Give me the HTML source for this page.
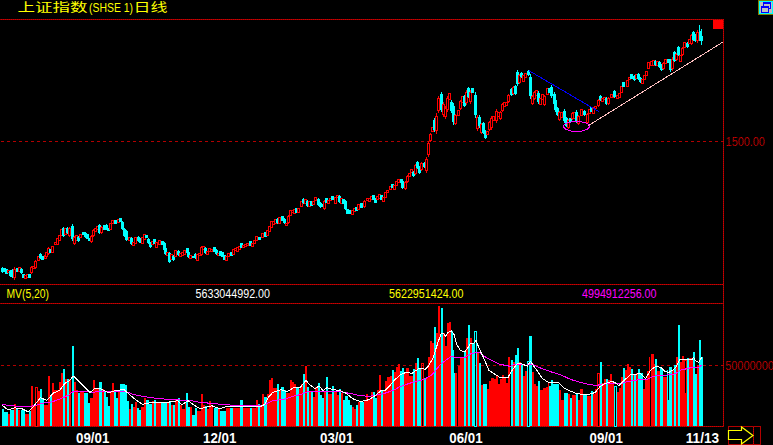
<!DOCTYPE html>
<html><head><meta charset="utf-8"><title>上证指数(SHSE 1)日线</title>
<style>html,body{margin:0;padding:0;background:#000;overflow:hidden}svg{display:block}text{font-family:"Liberation Sans","Noto Sans CJK SC",sans-serif}</style></head><body>
<svg width="773" height="445" viewBox="0 0 773 445">
<rect width="773" height="445" fill="#000"/>
<defs><pattern id="dr" width="2" height="2" patternUnits="userSpaceOnUse" shape-rendering="crispEdges"><rect width="2" height="2" fill="#990000"/><rect x="0" y="0" width="1" height="1" fill="#cc0000"/><rect x="1" y="1" width="1" height="1" fill="#cc0000"/></pattern></defs>
<g shape-rendering="crispEdges" fill="url(#dr)">
<rect x="0" y="19" width="724" height="1"/>
<rect x="723" y="19" width="1" height="408"/>
<rect x="0" y="284" width="724" height="1"/>
<rect x="0" y="303" width="724" height="1"/>
<rect x="0" y="426" width="724" height="1"/>
</g>
<g shape-rendering="crispEdges" stroke="#b20000" stroke-width="1" stroke-dasharray="3 3">
<line x1="1" y1="141.5" x2="723" y2="141.5"/>
<line x1="1" y1="365.5" x2="723" y2="365.5"/>
</g>
<rect x="713" y="20" width="10" height="9" fill="#ff0000" shape-rendering="crispEdges"/>
<g shape-rendering="crispEdges">
<rect x="2" y="409" width="2" height="17" fill="#00ffff"/>
<rect x="4" y="412" width="4" height="14" fill="#00ffff"/>
<rect x="8" y="414" width="2" height="12" fill="#ff0000"/>
<rect x="10" y="410" width="4" height="16" fill="#00ffff"/>
<rect x="14" y="404" width="2" height="22" fill="#ff0000"/>
<rect x="16" y="408" width="2" height="18" fill="#00ffff"/>
<rect x="18" y="410" width="2" height="16" fill="#ff0000"/>
<rect x="21" y="410" width="4" height="16" fill="#00ffff"/>
<rect x="25" y="414" width="4" height="12" fill="#ff0000"/>
<rect x="29" y="411" width="2" height="15" fill="#00ffff"/>
<rect x="31" y="386" width="2" height="40" fill="#ff0000"/>
<rect x="33" y="405" width="2" height="21" fill="#ff0000"/>
<rect x="35.5" y="387.5" width="2" height="39" fill="none" stroke="#ff0000" stroke-width="1"/>
<rect x="37" y="391" width="3" height="35" fill="#ff0000"/>
<rect x="40" y="389" width="2" height="37" fill="#00ffff"/>
<rect x="42" y="399" width="2" height="27" fill="#00ffff"/>
<rect x="44" y="405" width="4" height="21" fill="#ff0000"/>
<rect x="48" y="376" width="2" height="50" fill="#ff0000"/>
<rect x="50" y="395" width="2" height="31" fill="#00ffff"/>
<rect x="52" y="383" width="2" height="43" fill="#ff0000"/>
<rect x="54" y="390" width="5" height="36" fill="#ff0000"/>
<rect x="59" y="382" width="2" height="44" fill="#ff0000"/>
<rect x="61" y="373" width="2" height="53" fill="#ff0000"/>
<rect x="63" y="369" width="2" height="57" fill="#00ffff"/>
<rect x="65" y="379" width="2" height="47" fill="#ff0000"/>
<rect x="67" y="379" width="2" height="47" fill="#00ffff"/>
<rect x="69" y="379" width="2" height="47" fill="#ff0000"/>
<rect x="72" y="346" width="2" height="80" fill="#00ffff"/>
<rect x="74" y="382" width="2" height="44" fill="#ff0000"/>
<rect x="76" y="390" width="2" height="36" fill="#ff0000"/>
<rect x="78" y="393" width="2" height="33" fill="#00ffff"/>
<rect x="80" y="391" width="4" height="35" fill="#ff0000"/>
<rect x="84" y="393" width="4" height="33" fill="#00ffff"/>
<rect x="88" y="403" width="2" height="23" fill="#00ffff"/>
<rect x="90" y="398" width="3" height="28" fill="#ff0000"/>
<rect x="93" y="380" width="2" height="46" fill="#ff0000"/>
<rect x="95" y="388" width="4" height="38" fill="#ff0000"/>
<rect x="99" y="382" width="1" height="44" fill="#00ffff"/>
<rect x="100" y="382" width="2" height="44" fill="#00ffff"/>
<rect x="102" y="389" width="2" height="37" fill="#ff0000"/>
<rect x="104" y="391" width="2" height="35" fill="#00ffff"/>
<rect x="106" y="397" width="2" height="29" fill="#00ffff"/>
<rect x="108" y="406" width="2" height="20" fill="#00ffff"/>
<rect x="110" y="391" width="2" height="35" fill="#ff0000"/>
<rect x="112" y="383" width="2" height="43" fill="#ff0000"/>
<rect x="114" y="392" width="2" height="34" fill="#00ffff"/>
<rect x="116" y="398" width="2" height="28" fill="#00ffff"/>
<rect x="118" y="391" width="2" height="35" fill="#ff0000"/>
<rect x="120" y="384" width="5" height="42" fill="#00ffff"/>
<rect x="125" y="385" width="2" height="41" fill="#00ffff"/>
<rect x="127" y="401" width="2" height="25" fill="#00ffff"/>
<rect x="129" y="409" width="2" height="17" fill="#ff0000"/>
<rect x="131" y="404" width="2" height="22" fill="#00ffff"/>
<rect x="133" y="407" width="2" height="19" fill="#ff0000"/>
<rect x="135" y="402" width="2" height="24" fill="#ff0000"/>
<rect x="137" y="408" width="2" height="18" fill="#00ffff"/>
<rect x="139" y="410" width="2" height="16" fill="#00ffff"/>
<rect x="141" y="407" width="3" height="19" fill="#ff0000"/>
<rect x="144" y="398" width="2" height="28" fill="#ff0000"/>
<rect x="146" y="400" width="3" height="26" fill="#00ffff"/>
<rect x="149" y="404" width="3" height="22" fill="#00ffff"/>
<rect x="152" y="401" width="2" height="25" fill="#ff0000"/>
<rect x="154" y="400" width="2" height="26" fill="#00ffff"/>
<rect x="156" y="402" width="5" height="24" fill="#ff0000"/>
<rect x="161" y="402" width="6" height="24" fill="#00ffff"/>
<rect x="167" y="402" width="2" height="24" fill="#ff0000"/>
<rect x="169" y="402" width="2" height="24" fill="#00ffff"/>
<rect x="171" y="405" width="2" height="21" fill="#ff0000"/>
<rect x="173" y="405" width="2" height="21" fill="#00ffff"/>
<rect x="175" y="400" width="3" height="26" fill="#ff0000"/>
<rect x="178" y="398" width="2" height="28" fill="#00ffff"/>
<rect x="180" y="405" width="2" height="21" fill="#ff0000"/>
<rect x="182" y="409" width="3" height="17" fill="#ff0000"/>
<rect x="185" y="402" width="1" height="24" fill="#ff0000"/>
<rect x="186" y="393" width="2" height="33" fill="#00ffff"/>
<rect x="188" y="407" width="2" height="19" fill="#00ffff"/>
<rect x="190" y="407" width="2" height="19" fill="#ff0000"/>
<rect x="192" y="415" width="3" height="11" fill="#00ffff"/>
<rect x="195" y="408" width="2" height="18" fill="#00ffff"/>
<rect x="197" y="411" width="3" height="15" fill="#ff0000"/>
<rect x="200" y="411" width="1" height="15" fill="#ff0000"/>
<rect x="201" y="394" width="2" height="32" fill="#ff0000"/>
<rect x="203" y="405" width="2" height="21" fill="#ff0000"/>
<rect x="205" y="406" width="2" height="20" fill="#00ffff"/>
<rect x="207" y="409" width="2" height="17" fill="#ff0000"/>
<rect x="209" y="401" width="2" height="25" fill="#ff0000"/>
<rect x="211" y="405" width="2" height="21" fill="#ff0000"/>
<rect x="214" y="408" width="4" height="18" fill="#00ffff"/>
<rect x="218" y="408" width="2" height="18" fill="#ff0000"/>
<rect x="220" y="411" width="6" height="15" fill="#00ffff"/>
<rect x="226" y="408" width="4" height="18" fill="#ff0000"/>
<rect x="230" y="408" width="3" height="18" fill="#00ffff"/>
<rect x="233" y="408" width="7" height="18" fill="#ff0000"/>
<rect x="240" y="400" width="3" height="26" fill="#00ffff"/>
<rect x="243" y="408" width="7" height="18" fill="#ff0000"/>
<rect x="250" y="408" width="2" height="18" fill="#00ffff"/>
<rect x="252" y="408" width="4" height="18" fill="#ff0000"/>
<rect x="256" y="400" width="2" height="26" fill="#ff0000"/>
<rect x="258" y="404" width="2" height="22" fill="#00ffff"/>
<rect x="260" y="405" width="2" height="21" fill="#ff0000"/>
<rect x="262" y="394" width="2" height="32" fill="#ff0000"/>
<rect x="264" y="397" width="3" height="29" fill="#00ffff"/>
<rect x="267" y="394" width="2" height="32" fill="#ff0000"/>
<rect x="269" y="380" width="2" height="46" fill="#ff0000"/>
<rect x="271" y="378" width="2" height="48" fill="#ff0000"/>
<rect x="273" y="388" width="4" height="38" fill="#ff0000"/>
<rect x="277" y="384" width="2" height="42" fill="#00ffff"/>
<rect x="279" y="390" width="2" height="36" fill="#ff0000"/>
<rect x="281" y="387" width="3" height="39" fill="#00ffff"/>
<rect x="284" y="390" width="2" height="36" fill="#00ffff"/>
<rect x="286" y="393" width="4" height="33" fill="#ff0000"/>
<rect x="290" y="380" width="2" height="46" fill="#ff0000"/>
<rect x="292" y="382" width="2" height="44" fill="#ff0000"/>
<rect x="294" y="384" width="2" height="42" fill="#ff0000"/>
<rect x="296" y="387" width="3" height="39" fill="#00ffff"/>
<rect x="299" y="389" width="1" height="37" fill="#ff0000"/>
<rect x="300" y="386" width="1" height="40" fill="#ff0000"/>
<rect x="301" y="384" width="2" height="42" fill="#ff0000"/>
<rect x="303" y="374" width="2" height="52" fill="#00ffff"/>
<rect x="305" y="366" width="2" height="60" fill="#ff0000"/>
<rect x="307" y="387" width="2" height="39" fill="#00ffff"/>
<rect x="309" y="391" width="2" height="35" fill="#ff0000"/>
<rect x="311" y="391" width="2" height="35" fill="#00ffff"/>
<rect x="313" y="397" width="2" height="29" fill="#ff0000"/>
<rect x="315" y="387" width="3" height="39" fill="#ff0000"/>
<rect x="318" y="383" width="2" height="43" fill="#00ffff"/>
<rect x="320" y="395" width="2" height="31" fill="#00ffff"/>
<rect x="322" y="398" width="2" height="28" fill="#00ffff"/>
<rect x="324" y="391" width="2" height="35" fill="#ff0000"/>
<rect x="326" y="377" width="2" height="49" fill="#00ffff"/>
<rect x="328" y="394" width="4" height="32" fill="#ff0000"/>
<rect x="332" y="386" width="2" height="40" fill="#00ffff"/>
<rect x="334" y="391" width="3" height="35" fill="#ff0000"/>
<rect x="337" y="395" width="2" height="31" fill="#ff0000"/>
<rect x="339" y="389" width="2" height="37" fill="#00ffff"/>
<rect x="341" y="393" width="2" height="33" fill="#ff0000"/>
<rect x="343" y="400" width="2" height="26" fill="#00ffff"/>
<rect x="345" y="396" width="3" height="30" fill="#00ffff"/>
<rect x="348" y="400" width="2" height="26" fill="#00ffff"/>
<rect x="350" y="405" width="2" height="21" fill="#00ffff"/>
<rect x="352" y="407" width="2" height="19" fill="#ff0000"/>
<rect x="354" y="409" width="2" height="17" fill="#ff0000"/>
<rect x="356" y="405" width="2" height="21" fill="#00ffff"/>
<rect x="358" y="402" width="2" height="24" fill="#ff0000"/>
<rect x="360" y="402" width="4" height="24" fill="#00ffff"/>
<rect x="364" y="401" width="2" height="25" fill="#ff0000"/>
<rect x="366" y="394" width="2" height="32" fill="#ff0000"/>
<rect x="368" y="399" width="3" height="27" fill="#ff0000"/>
<rect x="371" y="392" width="2" height="34" fill="#ff0000"/>
<rect x="373" y="392" width="2" height="34" fill="#00ffff"/>
<rect x="375" y="398" width="2" height="28" fill="#00ffff"/>
<rect x="377" y="390" width="2" height="36" fill="#ff0000"/>
<rect x="379" y="375" width="2" height="51" fill="#ff0000"/>
<rect x="381" y="391" width="2" height="35" fill="#00ffff"/>
<rect x="383" y="391" width="2" height="35" fill="#ff0000"/>
<rect x="385" y="381" width="2" height="45" fill="#ff0000"/>
<rect x="387" y="377" width="3" height="49" fill="#ff0000"/>
<rect x="390" y="376" width="2" height="50" fill="#ff0000"/>
<rect x="392" y="370" width="2" height="56" fill="#00ffff"/>
<rect x="394" y="372" width="2" height="54" fill="#ff0000"/>
<rect x="396" y="367" width="2" height="59" fill="#ff0000"/>
<rect x="398" y="364" width="2" height="62" fill="#ff0000"/>
<rect x="400" y="371" width="2" height="55" fill="#00ffff"/>
<rect x="402" y="368" width="2" height="58" fill="#00ffff"/>
<rect x="404" y="373" width="2" height="53" fill="#ff0000"/>
<rect x="406" y="368" width="3" height="58" fill="#ff0000"/>
<rect x="409" y="376" width="4" height="50" fill="#ff0000"/>
<rect x="413" y="369" width="2" height="57" fill="#00ffff"/>
<rect x="415" y="363" width="2" height="63" fill="#ff0000"/>
<rect x="417" y="358" width="2" height="68" fill="#00ffff"/>
<rect x="419" y="368" width="2" height="58" fill="#00ffff"/>
<rect x="421.5" y="363.5" width="2" height="63" fill="none" stroke="#ff0000" stroke-width="1"/>
<rect x="424" y="378" width="2" height="48" fill="#00ffff"/>
<rect x="426" y="378" width="2" height="48" fill="#ff0000"/>
<rect x="455" y="373" width="2" height="53" fill="#ff0000"/>
<rect x="458" y="366" width="2" height="60" fill="#ff0000"/>
<rect x="460" y="358" width="4" height="68" fill="#ff0000"/>
<rect x="479" y="363" width="2" height="63" fill="#00ffff"/>
<rect x="481" y="385" width="2" height="41" fill="#ff0000"/>
<rect x="483" y="384" width="4" height="42" fill="#00ffff"/>
<rect x="487" y="389" width="2" height="37" fill="#ff0000"/>
<rect x="489" y="381" width="2" height="45" fill="#ff0000"/>
<rect x="491" y="378" width="3" height="48" fill="#ff0000"/>
<rect x="494" y="379" width="2" height="47" fill="#ff0000"/>
<rect x="496" y="376" width="2" height="50" fill="#ff0000"/>
<rect x="498" y="384" width="2" height="42" fill="#ff0000"/>
<rect x="428" y="357" width="2" height="69" fill="#ff0000"/>
<rect x="430" y="341" width="2" height="85" fill="#ff0000"/>
<rect x="432" y="343" width="2" height="83" fill="#ff0000"/>
<rect x="434" y="327" width="2" height="99" fill="#00ffff"/>
<rect x="436" y="333" width="2" height="93" fill="#ff0000"/>
<rect x="438" y="306" width="2" height="120" fill="#ff0000"/>
<rect x="440" y="335" width="1" height="91" fill="#ff0000"/>
<rect x="441" y="308" width="2" height="118" fill="#00ffff"/>
<rect x="443" y="333" width="2" height="93" fill="#ff0000"/>
<rect x="445" y="346" width="2" height="80" fill="#ff0000"/>
<rect x="447" y="323" width="2" height="103" fill="#ff0000"/>
<rect x="449" y="322" width="2" height="104" fill="#ff0000"/>
<rect x="451" y="331" width="2" height="95" fill="#00ffff"/>
<rect x="453" y="350" width="2" height="76" fill="#00ffff"/>
<rect x="464" y="352" width="2" height="74" fill="#00ffff"/>
<rect x="466" y="338" width="2" height="88" fill="#ff0000"/>
<rect x="468" y="325" width="2" height="101" fill="#00ffff"/>
<rect x="470" y="338" width="2" height="88" fill="#ff0000"/>
<rect x="472" y="343" width="2" height="83" fill="#00ffff"/>
<rect x="474.5" y="331.5" width="2" height="95" fill="none" stroke="#00ffff" stroke-width="1"/>
<rect x="477" y="352" width="2" height="74" fill="#ff0000"/>
<rect x="500" y="379" width="2" height="47" fill="#ff0000"/>
<rect x="502" y="375" width="2" height="51" fill="#ff0000"/>
<rect x="504" y="378" width="2" height="48" fill="#ff0000"/>
<rect x="506" y="383" width="2" height="43" fill="#ff0000"/>
<rect x="508" y="357" width="2" height="69" fill="#ff0000"/>
<rect x="511" y="360" width="2" height="66" fill="#00ffff"/>
<rect x="513" y="362" width="2" height="64" fill="#ff0000"/>
<rect x="515" y="355" width="2" height="71" fill="#00ffff"/>
<rect x="517" y="348" width="2" height="78" fill="#00ffff"/>
<rect x="519" y="362" width="2" height="64" fill="#ff0000"/>
<rect x="521" y="364" width="2" height="62" fill="#00ffff"/>
<rect x="523" y="376" width="2" height="50" fill="#ff0000"/>
<rect x="525" y="371" width="2" height="55" fill="#ff0000"/>
<rect x="527.5" y="361.5" width="2" height="65" fill="none" stroke="#00ffff" stroke-width="1"/>
<rect x="529" y="336" width="3" height="90" fill="#00ffff"/>
<rect x="532" y="372" width="2" height="54" fill="#ff0000"/>
<rect x="534" y="384" width="2" height="42" fill="#ff0000"/>
<rect x="536" y="386" width="2" height="40" fill="#ff0000"/>
<rect x="538" y="381" width="2" height="45" fill="#00ffff"/>
<rect x="540" y="390" width="3" height="36" fill="#ff0000"/>
<rect x="543" y="388" width="3" height="38" fill="#ff0000"/>
<rect x="546" y="387" width="2" height="39" fill="#ff0000"/>
<rect x="548" y="382" width="1" height="44" fill="#ff0000"/>
<rect x="549" y="386" width="2" height="40" fill="#00ffff"/>
<rect x="551" y="380" width="2" height="46" fill="#00ffff"/>
<rect x="553" y="384" width="6" height="42" fill="#00ffff"/>
<rect x="559" y="390" width="2" height="36" fill="#ff0000"/>
<rect x="561" y="400" width="3" height="26" fill="#ff0000"/>
<rect x="564" y="393" width="4" height="33" fill="#00ffff"/>
<rect x="568" y="394" width="2" height="32" fill="#ff0000"/>
<rect x="570" y="398" width="2" height="28" fill="#00ffff"/>
<rect x="572" y="395" width="4" height="31" fill="#ff0000"/>
<rect x="576" y="394" width="2" height="32" fill="#00ffff"/>
<rect x="578" y="400" width="2" height="26" fill="#ff0000"/>
<rect x="580" y="389" width="3" height="37" fill="#ff0000"/>
<rect x="583" y="395" width="4" height="31" fill="#00ffff"/>
<rect x="587" y="396" width="4" height="30" fill="#ff0000"/>
<rect x="591" y="391" width="2" height="35" fill="#00ffff"/>
<rect x="593" y="394" width="2" height="32" fill="#ff0000"/>
<rect x="595" y="389" width="2" height="37" fill="#ff0000"/>
<rect x="597.5" y="373.5" width="2" height="53" fill="none" stroke="#ff0000" stroke-width="1"/>
<rect x="600" y="362" width="2" height="64" fill="#00ffff"/>
<rect x="602" y="383" width="2" height="43" fill="#ff0000"/>
<rect x="604" y="379" width="2" height="47" fill="#ff0000"/>
<rect x="606" y="379" width="2" height="47" fill="#00ffff"/>
<rect x="608" y="380" width="2" height="46" fill="#ff0000"/>
<rect x="610" y="374" width="2" height="52" fill="#ff0000"/>
<rect x="612" y="381" width="2" height="45" fill="#ff0000"/>
<rect x="614.5" y="386.5" width="2" height="40" fill="none" stroke="#00ffff" stroke-width="1"/>
<rect x="617" y="392" width="2" height="34" fill="#ff0000"/>
<rect x="619" y="388" width="2" height="38" fill="#ff0000"/>
<rect x="621" y="377" width="2" height="49" fill="#ff0000"/>
<rect x="623" y="368" width="2" height="58" fill="#00ffff"/>
<rect x="625" y="370" width="2" height="56" fill="#ff0000"/>
<rect x="627" y="364" width="2" height="62" fill="#ff0000"/>
<rect x="629" y="367" width="2" height="59" fill="#ff0000"/>
<rect x="631" y="369" width="2" height="57" fill="#00ffff"/>
<rect x="633" y="375" width="1" height="51" fill="#ff0000"/>
<rect x="634" y="375" width="2" height="51" fill="#00ffff"/>
<rect x="636" y="373" width="2" height="53" fill="#ff0000"/>
<rect x="638" y="369" width="2" height="57" fill="#00ffff"/>
<rect x="640" y="373" width="3" height="53" fill="#00ffff"/>
<rect x="643" y="389" width="2" height="37" fill="#ff0000"/>
<rect x="645" y="380" width="2" height="46" fill="#ff0000"/>
<rect x="647" y="371" width="2" height="55" fill="#ff0000"/>
<rect x="649" y="357" width="2" height="69" fill="#ff0000"/>
<rect x="651" y="354" width="3" height="72" fill="#ff0000"/>
<rect x="654" y="364" width="1" height="62" fill="#ff0000"/>
<rect x="655" y="359" width="2" height="67" fill="#00ffff"/>
<rect x="657" y="371" width="3" height="55" fill="#ff0000"/>
<rect x="660" y="368" width="3" height="58" fill="#00ffff"/>
<rect x="663" y="377" width="4" height="49" fill="#ff0000"/>
<rect x="667" y="370" width="2" height="56" fill="#00ffff"/>
<rect x="669" y="367" width="3" height="59" fill="#00ffff"/>
<rect x="672" y="370" width="2" height="56" fill="#ff0000"/>
<rect x="674" y="365" width="2" height="61" fill="#00ffff"/>
<rect x="676" y="357" width="2" height="69" fill="#ff0000"/>
<rect x="678" y="325" width="2" height="101" fill="#00ffff"/>
<rect x="680" y="362" width="2" height="64" fill="#ff0000"/>
<rect x="682" y="356" width="2" height="70" fill="#ff0000"/>
<rect x="684" y="360" width="3" height="66" fill="#ff0000"/>
<rect x="687" y="358" width="2" height="68" fill="#00ffff"/>
<rect x="689" y="358" width="4" height="68" fill="#ff0000"/>
<rect x="693" y="352" width="2" height="74" fill="#00ffff"/>
<rect x="695" y="374" width="2" height="52" fill="#00ffff"/>
<rect x="697" y="365" width="2" height="61" fill="#ff0000"/>
<rect x="699" y="340" width="2" height="86" fill="#00ffff"/>
<rect x="701" y="357" width="2" height="69" fill="#00ffff"/>
<rect x="685" y="361" width="1" height="32" fill="#000"/>
<rect x="650" y="357" width="1" height="69" fill="#000"/>
<rect x="668" y="370" width="1" height="30" fill="#000"/>
<rect x="454" y="350" width="1" height="23" fill="#000"/>
</g>
<polyline points="2.0,404.4 12.0,405.8 28.3,406.8 36.4,405.2 42.5,403.2 52.6,401.7 60.7,398.7 68.8,395.0 72.9,391.6 85.0,391.6 93.0,392.2 100.0,391.6 126.0,391.6 134.0,394.7 150.6,397.7 171.0,399.7 189.0,400.3 200.0,402.3 216.0,403.8 232.0,405.2 256.7,405.8 264.8,404.8 273.0,400.7 285.0,399.0 295.0,395.7 300.0,394.7 308.0,391.6 340.0,391.6 350.6,393.6 360.7,395.7 368.8,396.3 379.0,394.7 387.0,392.6 395.0,389.6 400.0,386.6 412.0,382.5 424.3,379.5 432.4,374.4 440.5,364.3 450.6,356.6 460.7,357.8 465.0,357.4 470.4,354.0 477.0,352.0 481.0,353.5 487.0,358.0 495.0,361.9 500.0,364.3 510.0,366.3 516.0,364.0 522.0,364.0 526.0,365.3 531.4,364.0 540.5,368.0 552.6,372.4 560.7,374.8 570.8,379.5 581.0,382.5 589.0,384.5 597.0,385.5 600.0,384.5 610.0,383.5 619.0,384.0 628.0,381.5 640.5,379.5 646.5,379.5 654.7,376.0 664.8,375.4 675.5,373.7 679.8,370.4 686.3,368.8 691.5,367.5 698.7,367.2 701.6,365.3" fill="none" stroke="#ff00ff" stroke-width="1" stroke-linejoin="round" shape-rendering="crispEdges"/>
<polyline points="2.0,405.2 8.0,409.8 15.0,407.8 22.0,408.8 28.3,411.9 32.4,407.8 36.4,402.7 40.5,397.7 46.6,400.3 53.6,393.0 59.7,390.2 64.8,383.5 69.8,380.5 73.3,376.0 78.0,380.5 85.0,387.6 90.0,392.6 94.0,389.0 100.0,388.6 109.0,393.0 115.0,390.5 124.0,389.6 130.0,395.0 136.0,400.0 142.5,404.4 150.0,402.7 165.0,402.7 178.0,400.7 182.0,404.8 188.0,400.7 194.0,405.0 200.0,408.8 212.0,405.8 220.0,408.8 226.0,406.8 260.0,406.8 264.8,404.4 268.8,396.7 273.0,392.2 281.0,389.6 287.0,391.6 294.0,387.6 300.0,387.6 306.0,380.5 310.0,385.0 315.0,388.6 319.0,386.0 323.0,390.6 327.0,387.6 332.4,389.6 340.5,390.6 346.6,393.6 352.6,398.7 358.7,401.0 363.0,401.0 368.8,399.7 375.0,395.7 381.0,390.6 385.0,390.6 389.0,386.6 394.0,380.5 400.0,375.0 406.0,372.4 412.0,373.4 416.0,370.4 420.0,368.0 425.3,369.4 428.3,366.3 432.4,359.0 433.2,357.4 437.8,343.0 441.0,334.0 443.7,333.2 445.6,336.5 448.0,332.6 451.5,331.0 454.0,334.5 456.7,344.3 460.0,350.0 464.5,352.0 467.8,348.0 470.4,343.7 473.7,343.7 476.0,340.4 478.0,345.6 480.8,352.0 483.4,357.4 489.0,370.4 495.0,374.4 500.0,377.4 508.0,377.4 512.0,370.4 517.0,363.9 522.0,363.9 527.3,366.3 530.4,361.3 535.4,368.3 542.5,378.5 548.6,382.5 558.7,383.0 564.8,388.6 575.0,393.0 581.0,394.2 589.0,394.2 595.0,392.6 600.0,386.6 604.0,384.0 612.0,381.5 615.0,382.5 619.0,385.5 624.0,380.5 630.4,374.8 635.4,374.4 640.5,373.4 645.5,378.5 650.6,370.4 655.7,366.3 660.7,367.3 664.8,371.4 668.8,372.4 673.0,370.0 676.5,366.5 677.8,363.3 679.8,359.5 692.2,359.5 693.6,357.4 695.0,360.3 698.7,362.3 702.0,357.0" fill="none" stroke="#ffffff" stroke-width="1" stroke-linejoin="round" shape-rendering="crispEdges"/>
<g shape-rendering="crispEdges">
<rect x="2" y="267" width="1" height="6" fill="#00ffff"/>
<rect x="1" y="268" width="3" height="4" fill="#00ffff"/>
<rect x="3" y="268" width="3" height="4" fill="#00ffff"/>
<rect x="5" y="269" width="3" height="5" fill="#00ffff"/>
<rect x="7" y="270" width="3" height="3" fill="#ff0000"/>
<rect x="8" y="271" width="1" height="1" fill="#000"/>
<rect x="10" y="270" width="1" height="7" fill="#00ffff"/>
<rect x="9" y="271" width="3" height="5" fill="#00ffff"/>
<rect x="12" y="269" width="1" height="9" fill="#00ffff"/>
<rect x="11" y="270" width="3" height="7" fill="#00ffff"/>
<rect x="14" y="267" width="1" height="13" fill="#ff0000"/>
<rect x="13" y="269" width="3" height="9" fill="#ff0000"/>
<rect x="14" y="270" width="1" height="7" fill="#000"/>
<rect x="16" y="268" width="3" height="4" fill="#00ffff"/>
<rect x="18" y="267" width="3" height="5" fill="#ff0000"/>
<rect x="19" y="268" width="1" height="3" fill="#000"/>
<rect x="21" y="268" width="1" height="6" fill="#00ffff"/>
<rect x="20" y="269" width="3" height="4" fill="#00ffff"/>
<rect x="22" y="274" width="3" height="4" fill="#00ffff"/>
<rect x="24" y="275" width="3" height="4" fill="#ff0000"/>
<rect x="25" y="276" width="1" height="2" fill="#000"/>
<rect x="26" y="274" width="3" height="4" fill="#ff0000"/>
<rect x="27" y="275" width="1" height="2" fill="#000"/>
<rect x="28" y="274" width="3" height="4" fill="#00ffff"/>
<rect x="31" y="266" width="1" height="8" fill="#ff0000"/>
<rect x="30" y="267" width="3" height="6" fill="#ff0000"/>
<rect x="31" y="268" width="1" height="4" fill="#000"/>
<rect x="32" y="266" width="3" height="3" fill="#ff0000"/>
<rect x="33" y="267" width="1" height="1" fill="#000"/>
<rect x="35" y="260" width="1" height="9" fill="#ff0000"/>
<rect x="34" y="261" width="3" height="7" fill="#ff0000"/>
<rect x="35" y="262" width="1" height="5" fill="#000"/>
<rect x="37" y="256" width="3" height="5" fill="#ff0000"/>
<rect x="38" y="257" width="1" height="3" fill="#000"/>
<rect x="40" y="253" width="1" height="6" fill="#00ffff"/>
<rect x="39" y="254" width="3" height="4" fill="#00ffff"/>
<rect x="41" y="256" width="3" height="4" fill="#00ffff"/>
<rect x="44" y="255" width="3" height="4" fill="#ff0000"/>
<rect x="45" y="256" width="1" height="2" fill="#000"/>
<rect x="45" y="252" width="3" height="5" fill="#ff0000"/>
<rect x="46" y="253" width="1" height="3" fill="#000"/>
<rect x="48" y="247" width="1" height="8" fill="#ff0000"/>
<rect x="47" y="248" width="3" height="6" fill="#ff0000"/>
<rect x="48" y="249" width="1" height="4" fill="#000"/>
<rect x="49" y="249" width="3" height="4" fill="#00ffff"/>
<rect x="51" y="246" width="3" height="7" fill="#ff0000"/>
<rect x="52" y="247" width="1" height="5" fill="#000"/>
<rect x="54" y="242" width="3" height="3" fill="#ff0000"/>
<rect x="55" y="243" width="1" height="1" fill="#000"/>
<rect x="56" y="238" width="3" height="7" fill="#ff0000"/>
<rect x="57" y="239" width="1" height="5" fill="#000"/>
<rect x="58" y="235" width="3" height="6" fill="#ff0000"/>
<rect x="59" y="236" width="1" height="4" fill="#000"/>
<rect x="60" y="229" width="3" height="7" fill="#ff0000"/>
<rect x="61" y="230" width="1" height="5" fill="#000"/>
<rect x="63" y="227" width="1" height="10" fill="#00ffff"/>
<rect x="62" y="228" width="3" height="8" fill="#00ffff"/>
<rect x="64" y="228" width="3" height="7" fill="#ff0000"/>
<rect x="65" y="229" width="1" height="5" fill="#000"/>
<rect x="67" y="227" width="1" height="7" fill="#00ffff"/>
<rect x="66" y="228" width="3" height="5" fill="#00ffff"/>
<rect x="69" y="227" width="1" height="10" fill="#ff0000"/>
<rect x="68" y="228" width="3" height="8" fill="#ff0000"/>
<rect x="69" y="229" width="1" height="6" fill="#000"/>
<rect x="72" y="224" width="1" height="17" fill="#00ffff"/>
<rect x="71" y="226" width="3" height="13" fill="#00ffff"/>
<rect x="74" y="236" width="1" height="9" fill="#ff0000"/>
<rect x="73" y="237" width="3" height="7" fill="#ff0000"/>
<rect x="74" y="238" width="1" height="5" fill="#000"/>
<rect x="75" y="235" width="3" height="6" fill="#ff0000"/>
<rect x="76" y="236" width="1" height="4" fill="#000"/>
<rect x="78" y="236" width="1" height="6" fill="#00ffff"/>
<rect x="77" y="237" width="3" height="4" fill="#00ffff"/>
<rect x="79" y="234" width="3" height="4" fill="#ff0000"/>
<rect x="80" y="235" width="1" height="2" fill="#000"/>
<rect x="82" y="232" width="3" height="3" fill="#00ffff"/>
<rect x="85" y="232" width="1" height="6" fill="#00ffff"/>
<rect x="84" y="233" width="3" height="4" fill="#00ffff"/>
<rect x="86" y="234" width="3" height="5" fill="#00ffff"/>
<rect x="88" y="238" width="3" height="3" fill="#00ffff"/>
<rect x="91" y="235" width="1" height="8" fill="#ff0000"/>
<rect x="90" y="236" width="3" height="6" fill="#ff0000"/>
<rect x="91" y="237" width="1" height="4" fill="#000"/>
<rect x="93" y="229" width="1" height="8" fill="#ff0000"/>
<rect x="92" y="230" width="3" height="6" fill="#ff0000"/>
<rect x="93" y="231" width="1" height="4" fill="#000"/>
<rect x="94" y="228" width="3" height="4" fill="#ff0000"/>
<rect x="95" y="229" width="1" height="2" fill="#000"/>
<rect x="96" y="226" width="3" height="4" fill="#ff0000"/>
<rect x="97" y="227" width="1" height="2" fill="#000"/>
<rect x="99" y="224" width="1" height="10" fill="#00ffff"/>
<rect x="98" y="225" width="3" height="8" fill="#00ffff"/>
<rect x="101" y="226" width="1" height="8" fill="#ff0000"/>
<rect x="100" y="227" width="3" height="6" fill="#ff0000"/>
<rect x="101" y="228" width="1" height="4" fill="#000"/>
<rect x="103" y="225" width="3" height="5" fill="#00ffff"/>
<rect x="106" y="224" width="1" height="6" fill="#00ffff"/>
<rect x="105" y="225" width="3" height="4" fill="#00ffff"/>
<rect x="107" y="228" width="3" height="3" fill="#00ffff"/>
<rect x="109" y="223" width="3" height="7" fill="#ff0000"/>
<rect x="110" y="224" width="1" height="5" fill="#000"/>
<rect x="111" y="220" width="3" height="4" fill="#ff0000"/>
<rect x="112" y="221" width="1" height="2" fill="#000"/>
<rect x="114" y="220" width="3" height="4" fill="#00ffff"/>
<rect x="117" y="219" width="3" height="4" fill="#ff0000"/>
<rect x="118" y="220" width="1" height="2" fill="#000"/>
<rect x="119" y="218" width="3" height="4" fill="#00ffff"/>
<rect x="122" y="221" width="1" height="9" fill="#00ffff"/>
<rect x="121" y="222" width="3" height="7" fill="#00ffff"/>
<rect x="124" y="228" width="1" height="9" fill="#00ffff"/>
<rect x="123" y="229" width="3" height="7" fill="#00ffff"/>
<rect x="126" y="230" width="1" height="11" fill="#00ffff"/>
<rect x="125" y="231" width="3" height="9" fill="#00ffff"/>
<rect x="128" y="237" width="3" height="4" fill="#ff0000"/>
<rect x="129" y="238" width="1" height="2" fill="#000"/>
<rect x="131" y="237" width="1" height="8" fill="#00ffff"/>
<rect x="130" y="238" width="3" height="6" fill="#00ffff"/>
<rect x="132" y="242" width="3" height="4" fill="#ff0000"/>
<rect x="133" y="243" width="1" height="2" fill="#000"/>
<rect x="134" y="237" width="3" height="7" fill="#ff0000"/>
<rect x="135" y="238" width="1" height="5" fill="#000"/>
<rect x="138" y="236" width="1" height="6" fill="#00ffff"/>
<rect x="137" y="237" width="3" height="4" fill="#00ffff"/>
<rect x="139" y="238" width="3" height="5" fill="#00ffff"/>
<rect x="141" y="237" width="3" height="7" fill="#ff0000"/>
<rect x="142" y="238" width="1" height="5" fill="#000"/>
<rect x="143" y="234" width="3" height="6" fill="#ff0000"/>
<rect x="144" y="235" width="1" height="4" fill="#000"/>
<rect x="145" y="235" width="3" height="3" fill="#00ffff"/>
<rect x="148" y="238" width="1" height="6" fill="#00ffff"/>
<rect x="147" y="239" width="3" height="4" fill="#00ffff"/>
<rect x="150" y="242" width="1" height="6" fill="#00ffff"/>
<rect x="149" y="243" width="3" height="4" fill="#00ffff"/>
<rect x="151" y="241" width="3" height="4" fill="#ff0000"/>
<rect x="152" y="242" width="1" height="2" fill="#000"/>
<rect x="153" y="239" width="3" height="5" fill="#00ffff"/>
<rect x="155" y="242" width="3" height="6" fill="#ff0000"/>
<rect x="156" y="243" width="1" height="4" fill="#000"/>
<rect x="158" y="240" width="3" height="5" fill="#ff0000"/>
<rect x="159" y="241" width="1" height="3" fill="#000"/>
<rect x="161" y="241" width="3" height="4" fill="#00ffff"/>
<rect x="164" y="242" width="1" height="9" fill="#00ffff"/>
<rect x="163" y="243" width="3" height="7" fill="#00ffff"/>
<rect x="165" y="247" width="1" height="8" fill="#00ffff"/>
<rect x="164" y="248" width="3" height="6" fill="#00ffff"/>
<rect x="166" y="252" width="3" height="4" fill="#ff0000"/>
<rect x="167" y="253" width="1" height="2" fill="#000"/>
<rect x="169" y="252" width="1" height="11" fill="#00ffff"/>
<rect x="168" y="253" width="3" height="9" fill="#00ffff"/>
<rect x="170" y="254" width="3" height="6" fill="#ff0000"/>
<rect x="171" y="255" width="1" height="4" fill="#000"/>
<rect x="173" y="255" width="1" height="6" fill="#00ffff"/>
<rect x="172" y="256" width="3" height="4" fill="#00ffff"/>
<rect x="174" y="250" width="3" height="7" fill="#ff0000"/>
<rect x="175" y="251" width="1" height="5" fill="#000"/>
<rect x="178" y="250" width="1" height="6" fill="#00ffff"/>
<rect x="177" y="251" width="3" height="4" fill="#00ffff"/>
<rect x="179" y="253" width="3" height="4" fill="#ff0000"/>
<rect x="180" y="254" width="1" height="2" fill="#000"/>
<rect x="181" y="252" width="3" height="4" fill="#ff0000"/>
<rect x="182" y="253" width="1" height="2" fill="#000"/>
<rect x="183" y="250" width="3" height="5" fill="#ff0000"/>
<rect x="184" y="251" width="1" height="3" fill="#000"/>
<rect x="186" y="248" width="3" height="5" fill="#00ffff"/>
<rect x="188" y="251" width="1" height="7" fill="#00ffff"/>
<rect x="187" y="252" width="3" height="5" fill="#00ffff"/>
<rect x="189" y="255" width="3" height="4" fill="#ff0000"/>
<rect x="190" y="256" width="1" height="2" fill="#000"/>
<rect x="192" y="256" width="3" height="2" fill="#00ffff"/>
<rect x="195" y="253" width="1" height="6" fill="#00ffff"/>
<rect x="194" y="254" width="3" height="4" fill="#00ffff"/>
<rect x="196" y="254" width="3" height="7" fill="#ff0000"/>
<rect x="197" y="255" width="1" height="5" fill="#000"/>
<rect x="198" y="253" width="3" height="3" fill="#ff0000"/>
<rect x="199" y="254" width="1" height="1" fill="#000"/>
<rect x="201" y="246" width="1" height="10" fill="#ff0000"/>
<rect x="200" y="247" width="3" height="8" fill="#ff0000"/>
<rect x="201" y="248" width="1" height="6" fill="#000"/>
<rect x="202" y="246" width="3" height="4" fill="#ff0000"/>
<rect x="203" y="247" width="1" height="2" fill="#000"/>
<rect x="205" y="247" width="1" height="7" fill="#00ffff"/>
<rect x="204" y="248" width="3" height="5" fill="#00ffff"/>
<rect x="206" y="251" width="3" height="4" fill="#ff0000"/>
<rect x="207" y="252" width="1" height="2" fill="#000"/>
<rect x="208" y="248" width="3" height="4" fill="#ff0000"/>
<rect x="209" y="249" width="1" height="2" fill="#000"/>
<rect x="210" y="249" width="3" height="3" fill="#ff0000"/>
<rect x="211" y="250" width="1" height="1" fill="#000"/>
<rect x="213" y="247" width="3" height="5" fill="#00ffff"/>
<rect x="216" y="249" width="1" height="6" fill="#00ffff"/>
<rect x="215" y="250" width="3" height="4" fill="#00ffff"/>
<rect x="217" y="253" width="3" height="3" fill="#ff0000"/>
<rect x="218" y="254" width="1" height="1" fill="#000"/>
<rect x="219" y="251" width="3" height="5" fill="#00ffff"/>
<rect x="221" y="252" width="3" height="5" fill="#00ffff"/>
<rect x="223" y="255" width="3" height="5" fill="#00ffff"/>
<rect x="225" y="256" width="3" height="5" fill="#ff0000"/>
<rect x="226" y="257" width="1" height="3" fill="#000"/>
<rect x="227" y="253" width="3" height="4" fill="#ff0000"/>
<rect x="228" y="254" width="1" height="2" fill="#000"/>
<rect x="230" y="252" width="3" height="4" fill="#00ffff"/>
<rect x="232" y="249" width="3" height="6" fill="#ff0000"/>
<rect x="233" y="250" width="1" height="4" fill="#000"/>
<rect x="234" y="248" width="3" height="3" fill="#ff0000"/>
<rect x="235" y="249" width="1" height="1" fill="#000"/>
<rect x="236" y="247" width="3" height="5" fill="#ff0000"/>
<rect x="237" y="248" width="1" height="3" fill="#000"/>
<rect x="238" y="246" width="3" height="4" fill="#ff0000"/>
<rect x="239" y="247" width="1" height="2" fill="#000"/>
<rect x="240" y="243" width="3" height="5" fill="#00ffff"/>
<rect x="242" y="245" width="3" height="3" fill="#ff0000"/>
<rect x="243" y="246" width="1" height="1" fill="#000"/>
<rect x="244" y="244" width="3" height="3" fill="#ff0000"/>
<rect x="245" y="245" width="1" height="1" fill="#000"/>
<rect x="246" y="243" width="3" height="3" fill="#ff0000"/>
<rect x="247" y="244" width="1" height="1" fill="#000"/>
<rect x="249" y="241" width="3" height="5" fill="#00ffff"/>
<rect x="251" y="243" width="3" height="4" fill="#ff0000"/>
<rect x="252" y="244" width="1" height="2" fill="#000"/>
<rect x="253" y="240" width="3" height="4" fill="#ff0000"/>
<rect x="254" y="241" width="1" height="2" fill="#000"/>
<rect x="255" y="236" width="3" height="5" fill="#ff0000"/>
<rect x="256" y="237" width="1" height="3" fill="#000"/>
<rect x="258" y="237" width="3" height="3" fill="#00ffff"/>
<rect x="261" y="233" width="3" height="5" fill="#ff0000"/>
<rect x="262" y="234" width="1" height="3" fill="#000"/>
<rect x="264" y="232" width="3" height="5" fill="#00ffff"/>
<rect x="266" y="230" width="3" height="6" fill="#ff0000"/>
<rect x="267" y="231" width="1" height="4" fill="#000"/>
<rect x="268" y="226" width="3" height="6" fill="#ff0000"/>
<rect x="269" y="227" width="1" height="4" fill="#000"/>
<rect x="270" y="221" width="3" height="7" fill="#ff0000"/>
<rect x="271" y="222" width="1" height="5" fill="#000"/>
<rect x="272" y="221" width="3" height="4" fill="#ff0000"/>
<rect x="273" y="222" width="1" height="2" fill="#000"/>
<rect x="274" y="219" width="3" height="5" fill="#ff0000"/>
<rect x="275" y="220" width="1" height="3" fill="#000"/>
<rect x="277" y="218" width="1" height="6" fill="#00ffff"/>
<rect x="276" y="219" width="3" height="4" fill="#00ffff"/>
<rect x="278" y="217" width="3" height="7" fill="#ff0000"/>
<rect x="279" y="218" width="1" height="5" fill="#000"/>
<rect x="281" y="216" width="3" height="5" fill="#00ffff"/>
<rect x="284" y="218" width="1" height="6" fill="#00ffff"/>
<rect x="283" y="219" width="3" height="4" fill="#00ffff"/>
<rect x="285" y="223" width="3" height="3" fill="#ff0000"/>
<rect x="286" y="224" width="1" height="1" fill="#000"/>
<rect x="288" y="215" width="1" height="9" fill="#ff0000"/>
<rect x="287" y="216" width="3" height="7" fill="#ff0000"/>
<rect x="288" y="217" width="1" height="5" fill="#000"/>
<rect x="289" y="210" width="3" height="6" fill="#ff0000"/>
<rect x="290" y="211" width="1" height="4" fill="#000"/>
<rect x="291" y="210" width="3" height="3" fill="#ff0000"/>
<rect x="292" y="211" width="1" height="1" fill="#000"/>
<rect x="293" y="209" width="3" height="5" fill="#ff0000"/>
<rect x="294" y="210" width="1" height="3" fill="#000"/>
<rect x="295" y="208" width="3" height="5" fill="#00ffff"/>
<rect x="297" y="208" width="3" height="5" fill="#ff0000"/>
<rect x="298" y="209" width="1" height="3" fill="#000"/>
<rect x="300" y="201" width="3" height="6" fill="#ff0000"/>
<rect x="301" y="202" width="1" height="4" fill="#000"/>
<rect x="303" y="198" width="1" height="6" fill="#00ffff"/>
<rect x="302" y="199" width="3" height="4" fill="#00ffff"/>
<rect x="304" y="199" width="3" height="5" fill="#ff0000"/>
<rect x="305" y="200" width="1" height="3" fill="#000"/>
<rect x="307" y="200" width="1" height="7" fill="#00ffff"/>
<rect x="306" y="201" width="3" height="5" fill="#00ffff"/>
<rect x="308" y="201" width="3" height="6" fill="#ff0000"/>
<rect x="309" y="202" width="1" height="4" fill="#000"/>
<rect x="310" y="201" width="3" height="5" fill="#00ffff"/>
<rect x="312" y="201" width="3" height="4" fill="#ff0000"/>
<rect x="313" y="202" width="1" height="2" fill="#000"/>
<rect x="314" y="197" width="3" height="4" fill="#ff0000"/>
<rect x="315" y="198" width="1" height="2" fill="#000"/>
<rect x="318" y="198" width="1" height="8" fill="#00ffff"/>
<rect x="317" y="199" width="3" height="6" fill="#00ffff"/>
<rect x="320" y="202" width="1" height="6" fill="#00ffff"/>
<rect x="319" y="203" width="3" height="4" fill="#00ffff"/>
<rect x="321" y="204" width="3" height="3" fill="#00ffff"/>
<rect x="324" y="200" width="1" height="10" fill="#ff0000"/>
<rect x="323" y="201" width="3" height="8" fill="#ff0000"/>
<rect x="324" y="202" width="1" height="6" fill="#000"/>
<rect x="325" y="198" width="3" height="5" fill="#00ffff"/>
<rect x="327" y="200" width="3" height="4" fill="#ff0000"/>
<rect x="328" y="201" width="1" height="2" fill="#000"/>
<rect x="329" y="198" width="3" height="3" fill="#ff0000"/>
<rect x="330" y="199" width="1" height="1" fill="#000"/>
<rect x="331" y="196" width="3" height="4" fill="#00ffff"/>
<rect x="334" y="197" width="3" height="7" fill="#ff0000"/>
<rect x="335" y="198" width="1" height="5" fill="#000"/>
<rect x="336" y="195" width="3" height="3" fill="#ff0000"/>
<rect x="337" y="196" width="1" height="1" fill="#000"/>
<rect x="339" y="195" width="1" height="8" fill="#00ffff"/>
<rect x="338" y="196" width="3" height="6" fill="#00ffff"/>
<rect x="340" y="198" width="3" height="6" fill="#ff0000"/>
<rect x="341" y="199" width="1" height="4" fill="#000"/>
<rect x="342" y="199" width="3" height="5" fill="#00ffff"/>
<rect x="345" y="200" width="1" height="10" fill="#00ffff"/>
<rect x="344" y="201" width="3" height="8" fill="#00ffff"/>
<rect x="346" y="209" width="3" height="5" fill="#00ffff"/>
<rect x="348" y="210" width="3" height="4" fill="#00ffff"/>
<rect x="351" y="210" width="3" height="5" fill="#ff0000"/>
<rect x="352" y="211" width="1" height="3" fill="#000"/>
<rect x="353" y="208" width="3" height="4" fill="#ff0000"/>
<rect x="354" y="209" width="1" height="2" fill="#000"/>
<rect x="355" y="207" width="3" height="4" fill="#00ffff"/>
<rect x="357" y="204" width="3" height="6" fill="#ff0000"/>
<rect x="358" y="205" width="1" height="4" fill="#000"/>
<rect x="360" y="203" width="3" height="5" fill="#00ffff"/>
<rect x="364" y="200" width="1" height="8" fill="#ff0000"/>
<rect x="363" y="201" width="3" height="6" fill="#ff0000"/>
<rect x="364" y="202" width="1" height="4" fill="#000"/>
<rect x="366" y="198" width="3" height="3" fill="#ff0000"/>
<rect x="367" y="199" width="1" height="1" fill="#000"/>
<rect x="368" y="198" width="3" height="4" fill="#ff0000"/>
<rect x="369" y="199" width="1" height="2" fill="#000"/>
<rect x="370" y="196" width="3" height="4" fill="#ff0000"/>
<rect x="371" y="197" width="1" height="2" fill="#000"/>
<rect x="372" y="195" width="3" height="5" fill="#00ffff"/>
<rect x="374" y="198" width="3" height="5" fill="#00ffff"/>
<rect x="376" y="196" width="3" height="4" fill="#ff0000"/>
<rect x="377" y="197" width="1" height="2" fill="#000"/>
<rect x="378" y="194" width="3" height="5" fill="#ff0000"/>
<rect x="379" y="195" width="1" height="3" fill="#000"/>
<rect x="380" y="195" width="3" height="5" fill="#00ffff"/>
<rect x="382" y="197" width="3" height="5" fill="#ff0000"/>
<rect x="383" y="198" width="1" height="3" fill="#000"/>
<rect x="384" y="192" width="3" height="6" fill="#ff0000"/>
<rect x="385" y="193" width="1" height="4" fill="#000"/>
<rect x="386" y="190" width="3" height="3" fill="#ff0000"/>
<rect x="387" y="191" width="1" height="1" fill="#000"/>
<rect x="389" y="186" width="3" height="4" fill="#ff0000"/>
<rect x="390" y="187" width="1" height="2" fill="#000"/>
<rect x="391" y="184" width="3" height="4" fill="#00ffff"/>
<rect x="393" y="185" width="3" height="5" fill="#ff0000"/>
<rect x="394" y="186" width="1" height="3" fill="#000"/>
<rect x="395" y="181" width="3" height="5" fill="#ff0000"/>
<rect x="396" y="182" width="1" height="3" fill="#000"/>
<rect x="397" y="179" width="3" height="4" fill="#ff0000"/>
<rect x="398" y="180" width="1" height="2" fill="#000"/>
<rect x="400" y="179" width="3" height="4" fill="#00ffff"/>
<rect x="402" y="180" width="1" height="9" fill="#00ffff"/>
<rect x="401" y="181" width="3" height="7" fill="#00ffff"/>
<rect x="405" y="181" width="1" height="9" fill="#ff0000"/>
<rect x="404" y="182" width="3" height="7" fill="#ff0000"/>
<rect x="405" y="183" width="1" height="5" fill="#000"/>
<rect x="407" y="175" width="1" height="8" fill="#ff0000"/>
<rect x="406" y="176" width="3" height="6" fill="#ff0000"/>
<rect x="407" y="177" width="1" height="4" fill="#000"/>
<rect x="408" y="173" width="3" height="4" fill="#ff0000"/>
<rect x="409" y="174" width="1" height="2" fill="#000"/>
<rect x="410" y="169" width="3" height="4" fill="#ff0000"/>
<rect x="411" y="170" width="1" height="2" fill="#000"/>
<rect x="413" y="171" width="1" height="6" fill="#00ffff"/>
<rect x="412" y="172" width="3" height="4" fill="#00ffff"/>
<rect x="415" y="164" width="1" height="11" fill="#ff0000"/>
<rect x="414" y="165" width="3" height="9" fill="#ff0000"/>
<rect x="415" y="166" width="1" height="7" fill="#000"/>
<rect x="417" y="161" width="1" height="8" fill="#00ffff"/>
<rect x="416" y="162" width="3" height="6" fill="#00ffff"/>
<rect x="419" y="166" width="1" height="8" fill="#00ffff"/>
<rect x="418" y="167" width="3" height="6" fill="#00ffff"/>
<rect x="421" y="162" width="1" height="9" fill="#ff0000"/>
<rect x="420" y="163" width="3" height="7" fill="#ff0000"/>
<rect x="421" y="164" width="1" height="5" fill="#000"/>
<rect x="424" y="162" width="1" height="6" fill="#00ffff"/>
<rect x="423" y="163" width="3" height="4" fill="#00ffff"/>
<rect x="426" y="157" width="1" height="16" fill="#ff0000"/>
<rect x="425" y="159" width="3" height="12" fill="#ff0000"/>
<rect x="426" y="160" width="1" height="10" fill="#000"/>
<rect x="428" y="141" width="1" height="16" fill="#ff0000"/>
<rect x="427" y="143" width="3" height="12" fill="#ff0000"/>
<rect x="428" y="144" width="1" height="10" fill="#000"/>
<rect x="430" y="133" width="1" height="9" fill="#ff0000"/>
<rect x="429" y="134" width="3" height="7" fill="#ff0000"/>
<rect x="430" y="135" width="1" height="5" fill="#000"/>
<rect x="431" y="127" width="3" height="5" fill="#ff0000"/>
<rect x="432" y="128" width="1" height="3" fill="#000"/>
<rect x="434" y="118" width="1" height="14" fill="#00ffff"/>
<rect x="433" y="120" width="3" height="10" fill="#00ffff"/>
<rect x="436" y="113" width="1" height="21" fill="#ff0000"/>
<rect x="435" y="116" width="3" height="15" fill="#ff0000"/>
<rect x="436" y="117" width="1" height="13" fill="#000"/>
<rect x="438" y="96" width="1" height="17" fill="#ff0000"/>
<rect x="437" y="98" width="3" height="13" fill="#ff0000"/>
<rect x="438" y="99" width="1" height="11" fill="#000"/>
<rect x="441" y="92" width="1" height="20" fill="#00ffff"/>
<rect x="440" y="94" width="3" height="16" fill="#00ffff"/>
<rect x="443" y="102" width="1" height="15" fill="#ff0000"/>
<rect x="442" y="104" width="3" height="11" fill="#ff0000"/>
<rect x="443" y="105" width="1" height="9" fill="#000"/>
<rect x="445" y="106" width="1" height="13" fill="#ff0000"/>
<rect x="444" y="108" width="3" height="9" fill="#ff0000"/>
<rect x="445" y="109" width="1" height="7" fill="#000"/>
<rect x="447" y="96" width="1" height="16" fill="#ff0000"/>
<rect x="446" y="98" width="3" height="12" fill="#ff0000"/>
<rect x="447" y="99" width="1" height="10" fill="#000"/>
<rect x="448" y="93" width="3" height="7" fill="#ff0000"/>
<rect x="449" y="94" width="1" height="5" fill="#000"/>
<rect x="451" y="100" width="1" height="13" fill="#00ffff"/>
<rect x="450" y="102" width="3" height="9" fill="#00ffff"/>
<rect x="453" y="103" width="1" height="22" fill="#00ffff"/>
<rect x="452" y="106" width="3" height="16" fill="#00ffff"/>
<rect x="455" y="114" width="1" height="11" fill="#ff0000"/>
<rect x="454" y="115" width="3" height="9" fill="#ff0000"/>
<rect x="455" y="116" width="1" height="7" fill="#000"/>
<rect x="457" y="110" width="3" height="6" fill="#ff0000"/>
<rect x="458" y="111" width="1" height="4" fill="#000"/>
<rect x="460" y="100" width="1" height="10" fill="#ff0000"/>
<rect x="459" y="101" width="3" height="8" fill="#ff0000"/>
<rect x="460" y="102" width="1" height="6" fill="#000"/>
<rect x="461" y="96" width="3" height="7" fill="#ff0000"/>
<rect x="462" y="97" width="1" height="5" fill="#000"/>
<rect x="464" y="95" width="1" height="12" fill="#00ffff"/>
<rect x="463" y="96" width="3" height="10" fill="#00ffff"/>
<rect x="466" y="90" width="1" height="15" fill="#ff0000"/>
<rect x="465" y="92" width="3" height="11" fill="#ff0000"/>
<rect x="466" y="93" width="1" height="9" fill="#000"/>
<rect x="468" y="87" width="1" height="11" fill="#00ffff"/>
<rect x="467" y="88" width="3" height="9" fill="#00ffff"/>
<rect x="470" y="90" width="1" height="14" fill="#ff0000"/>
<rect x="469" y="92" width="3" height="10" fill="#ff0000"/>
<rect x="470" y="93" width="1" height="8" fill="#000"/>
<rect x="471" y="88" width="3" height="5" fill="#00ffff"/>
<rect x="475" y="92" width="1" height="26" fill="#00ffff"/>
<rect x="474" y="95" width="3" height="20" fill="#00ffff"/>
<rect x="477" y="115" width="1" height="16" fill="#ff0000"/>
<rect x="476" y="117" width="3" height="12" fill="#ff0000"/>
<rect x="477" y="118" width="1" height="10" fill="#000"/>
<rect x="479" y="115" width="1" height="13" fill="#00ffff"/>
<rect x="478" y="117" width="3" height="9" fill="#00ffff"/>
<rect x="481" y="123" width="1" height="11" fill="#ff0000"/>
<rect x="480" y="124" width="3" height="9" fill="#ff0000"/>
<rect x="481" y="125" width="1" height="7" fill="#000"/>
<rect x="483" y="122" width="1" height="12" fill="#00ffff"/>
<rect x="482" y="123" width="3" height="10" fill="#00ffff"/>
<rect x="485" y="130" width="1" height="9" fill="#00ffff"/>
<rect x="484" y="131" width="3" height="7" fill="#00ffff"/>
<rect x="486" y="131" width="3" height="4" fill="#ff0000"/>
<rect x="487" y="132" width="1" height="2" fill="#000"/>
<rect x="489" y="121" width="1" height="10" fill="#ff0000"/>
<rect x="488" y="122" width="3" height="8" fill="#ff0000"/>
<rect x="489" y="123" width="1" height="6" fill="#000"/>
<rect x="491" y="116" width="1" height="14" fill="#ff0000"/>
<rect x="490" y="118" width="3" height="10" fill="#ff0000"/>
<rect x="491" y="119" width="1" height="8" fill="#000"/>
<rect x="492" y="116" width="3" height="5" fill="#ff0000"/>
<rect x="493" y="117" width="1" height="3" fill="#000"/>
<rect x="496" y="109" width="1" height="14" fill="#ff0000"/>
<rect x="495" y="111" width="3" height="10" fill="#ff0000"/>
<rect x="496" y="112" width="1" height="8" fill="#000"/>
<rect x="497" y="112" width="3" height="5" fill="#ff0000"/>
<rect x="498" y="113" width="1" height="3" fill="#000"/>
<rect x="500" y="111" width="1" height="9" fill="#ff0000"/>
<rect x="499" y="112" width="3" height="7" fill="#ff0000"/>
<rect x="500" y="113" width="1" height="5" fill="#000"/>
<rect x="502" y="103" width="1" height="9" fill="#ff0000"/>
<rect x="501" y="104" width="3" height="7" fill="#ff0000"/>
<rect x="502" y="105" width="1" height="5" fill="#000"/>
<rect x="503" y="102" width="3" height="5" fill="#ff0000"/>
<rect x="504" y="103" width="1" height="3" fill="#000"/>
<rect x="505" y="102" width="3" height="4" fill="#ff0000"/>
<rect x="506" y="103" width="1" height="2" fill="#000"/>
<rect x="508" y="94" width="1" height="9" fill="#ff0000"/>
<rect x="507" y="95" width="3" height="7" fill="#ff0000"/>
<rect x="508" y="96" width="1" height="5" fill="#000"/>
<rect x="511" y="88" width="1" height="8" fill="#00ffff"/>
<rect x="510" y="89" width="3" height="6" fill="#00ffff"/>
<rect x="513" y="86" width="1" height="9" fill="#ff0000"/>
<rect x="512" y="87" width="3" height="7" fill="#ff0000"/>
<rect x="513" y="88" width="1" height="5" fill="#000"/>
<rect x="515" y="85" width="1" height="10" fill="#00ffff"/>
<rect x="514" y="86" width="3" height="8" fill="#00ffff"/>
<rect x="517" y="70" width="1" height="16" fill="#00ffff"/>
<rect x="516" y="72" width="3" height="12" fill="#00ffff"/>
<rect x="519" y="74" width="1" height="10" fill="#ff0000"/>
<rect x="518" y="75" width="3" height="8" fill="#ff0000"/>
<rect x="519" y="76" width="1" height="6" fill="#000"/>
<rect x="521" y="72" width="1" height="6" fill="#00ffff"/>
<rect x="520" y="73" width="3" height="4" fill="#00ffff"/>
<rect x="522" y="75" width="3" height="7" fill="#ff0000"/>
<rect x="523" y="76" width="1" height="5" fill="#000"/>
<rect x="524" y="73" width="3" height="5" fill="#ff0000"/>
<rect x="525" y="74" width="1" height="3" fill="#000"/>
<rect x="528" y="70" width="1" height="6" fill="#00ffff"/>
<rect x="527" y="71" width="3" height="4" fill="#00ffff"/>
<rect x="530" y="74" width="1" height="25" fill="#00ffff"/>
<rect x="529" y="77" width="3" height="19" fill="#00ffff"/>
<rect x="532" y="95" width="1" height="10" fill="#ff0000"/>
<rect x="531" y="96" width="3" height="8" fill="#ff0000"/>
<rect x="532" y="97" width="1" height="6" fill="#000"/>
<rect x="534" y="91" width="1" height="9" fill="#ff0000"/>
<rect x="533" y="92" width="3" height="7" fill="#ff0000"/>
<rect x="534" y="93" width="1" height="5" fill="#000"/>
<rect x="535" y="90" width="3" height="6" fill="#ff0000"/>
<rect x="536" y="91" width="1" height="4" fill="#000"/>
<rect x="538" y="91" width="1" height="13" fill="#00ffff"/>
<rect x="537" y="93" width="3" height="9" fill="#00ffff"/>
<rect x="539" y="98" width="3" height="7" fill="#ff0000"/>
<rect x="540" y="99" width="1" height="5" fill="#000"/>
<rect x="541" y="94" width="3" height="6" fill="#ff0000"/>
<rect x="542" y="95" width="1" height="4" fill="#000"/>
<rect x="544" y="95" width="1" height="11" fill="#ff0000"/>
<rect x="543" y="96" width="3" height="9" fill="#ff0000"/>
<rect x="544" y="97" width="1" height="7" fill="#000"/>
<rect x="546" y="88" width="3" height="7" fill="#ff0000"/>
<rect x="547" y="89" width="1" height="5" fill="#000"/>
<rect x="548" y="88" width="3" height="5" fill="#00ffff"/>
<rect x="551" y="85" width="1" height="13" fill="#00ffff"/>
<rect x="550" y="87" width="3" height="9" fill="#00ffff"/>
<rect x="554" y="92" width="1" height="14" fill="#00ffff"/>
<rect x="553" y="94" width="3" height="10" fill="#00ffff"/>
<rect x="555" y="98" width="1" height="14" fill="#00ffff"/>
<rect x="554" y="100" width="3" height="10" fill="#00ffff"/>
<rect x="557" y="107" width="1" height="9" fill="#00ffff"/>
<rect x="556" y="108" width="3" height="7" fill="#00ffff"/>
<rect x="559" y="111" width="1" height="10" fill="#ff0000"/>
<rect x="558" y="112" width="3" height="8" fill="#ff0000"/>
<rect x="559" y="113" width="1" height="6" fill="#000"/>
<rect x="560" y="112" width="3" height="6" fill="#ff0000"/>
<rect x="561" y="113" width="1" height="4" fill="#000"/>
<rect x="564" y="109" width="1" height="14" fill="#00ffff"/>
<rect x="563" y="111" width="3" height="10" fill="#00ffff"/>
<rect x="566" y="117" width="1" height="10" fill="#00ffff"/>
<rect x="565" y="118" width="3" height="8" fill="#00ffff"/>
<rect x="568" y="119" width="1" height="10" fill="#ff0000"/>
<rect x="567" y="120" width="3" height="8" fill="#ff0000"/>
<rect x="568" y="121" width="1" height="6" fill="#000"/>
<rect x="569" y="118" width="3" height="4" fill="#00ffff"/>
<rect x="572" y="112" width="1" height="8" fill="#ff0000"/>
<rect x="571" y="113" width="3" height="6" fill="#ff0000"/>
<rect x="572" y="114" width="1" height="4" fill="#000"/>
<rect x="573" y="112" width="3" height="7" fill="#ff0000"/>
<rect x="574" y="113" width="1" height="5" fill="#000"/>
<rect x="576" y="110" width="1" height="13" fill="#00ffff"/>
<rect x="575" y="112" width="3" height="9" fill="#00ffff"/>
<rect x="578" y="115" width="1" height="10" fill="#ff0000"/>
<rect x="577" y="116" width="3" height="8" fill="#ff0000"/>
<rect x="578" y="117" width="1" height="6" fill="#000"/>
<rect x="580" y="109" width="3" height="7" fill="#ff0000"/>
<rect x="581" y="110" width="1" height="5" fill="#000"/>
<rect x="584" y="110" width="1" height="6" fill="#00ffff"/>
<rect x="583" y="111" width="3" height="4" fill="#00ffff"/>
<rect x="587" y="113" width="1" height="11" fill="#ff0000"/>
<rect x="586" y="114" width="3" height="9" fill="#ff0000"/>
<rect x="587" y="115" width="1" height="7" fill="#000"/>
<rect x="588" y="109" width="3" height="5" fill="#ff0000"/>
<rect x="589" y="110" width="1" height="3" fill="#000"/>
<rect x="590" y="107" width="3" height="5" fill="#00ffff"/>
<rect x="592" y="107" width="3" height="7" fill="#ff0000"/>
<rect x="593" y="108" width="1" height="5" fill="#000"/>
<rect x="594" y="106" width="3" height="3" fill="#ff0000"/>
<rect x="595" y="107" width="1" height="1" fill="#000"/>
<rect x="598" y="99" width="1" height="8" fill="#ff0000"/>
<rect x="597" y="100" width="3" height="6" fill="#ff0000"/>
<rect x="598" y="101" width="1" height="4" fill="#000"/>
<rect x="600" y="95" width="1" height="6" fill="#00ffff"/>
<rect x="599" y="96" width="3" height="4" fill="#00ffff"/>
<rect x="601" y="98" width="3" height="4" fill="#ff0000"/>
<rect x="602" y="99" width="1" height="2" fill="#000"/>
<rect x="603" y="97" width="3" height="3" fill="#ff0000"/>
<rect x="604" y="98" width="1" height="1" fill="#000"/>
<rect x="606" y="97" width="1" height="8" fill="#00ffff"/>
<rect x="605" y="98" width="3" height="6" fill="#00ffff"/>
<rect x="608" y="97" width="1" height="8" fill="#ff0000"/>
<rect x="607" y="98" width="3" height="6" fill="#ff0000"/>
<rect x="608" y="99" width="1" height="4" fill="#000"/>
<rect x="610" y="94" width="3" height="4" fill="#ff0000"/>
<rect x="611" y="95" width="1" height="2" fill="#000"/>
<rect x="612" y="94" width="3" height="4" fill="#ff0000"/>
<rect x="613" y="95" width="1" height="2" fill="#000"/>
<rect x="614" y="90" width="1" height="8" fill="#00ffff"/>
<rect x="613" y="91" width="3" height="6" fill="#00ffff"/>
<rect x="616" y="95" width="3" height="4" fill="#ff0000"/>
<rect x="617" y="96" width="1" height="2" fill="#000"/>
<rect x="618" y="93" width="3" height="5" fill="#ff0000"/>
<rect x="619" y="94" width="1" height="3" fill="#000"/>
<rect x="620" y="86" width="3" height="7" fill="#ff0000"/>
<rect x="621" y="87" width="1" height="5" fill="#000"/>
<rect x="622" y="82" width="3" height="5" fill="#00ffff"/>
<rect x="626" y="80" width="3" height="7" fill="#ff0000"/>
<rect x="627" y="81" width="1" height="5" fill="#000"/>
<rect x="628" y="77" width="3" height="3" fill="#ff0000"/>
<rect x="629" y="78" width="1" height="1" fill="#000"/>
<rect x="630" y="74" width="3" height="5" fill="#00ffff"/>
<rect x="634" y="75" width="1" height="6" fill="#00ffff"/>
<rect x="633" y="76" width="3" height="4" fill="#00ffff"/>
<rect x="635" y="74" width="3" height="5" fill="#ff0000"/>
<rect x="636" y="75" width="1" height="3" fill="#000"/>
<rect x="638" y="73" width="1" height="7" fill="#00ffff"/>
<rect x="637" y="74" width="3" height="5" fill="#00ffff"/>
<rect x="640" y="77" width="1" height="6" fill="#00ffff"/>
<rect x="639" y="78" width="3" height="4" fill="#00ffff"/>
<rect x="641" y="79" width="3" height="5" fill="#ff0000"/>
<rect x="642" y="80" width="1" height="3" fill="#000"/>
<rect x="643" y="75" width="3" height="5" fill="#ff0000"/>
<rect x="644" y="76" width="1" height="3" fill="#000"/>
<rect x="645" y="71" width="3" height="5" fill="#ff0000"/>
<rect x="646" y="72" width="1" height="3" fill="#000"/>
<rect x="647" y="62" width="3" height="7" fill="#ff0000"/>
<rect x="648" y="63" width="1" height="5" fill="#000"/>
<rect x="650" y="61" width="3" height="5" fill="#ff0000"/>
<rect x="651" y="62" width="1" height="3" fill="#000"/>
<rect x="652" y="60" width="3" height="6" fill="#ff0000"/>
<rect x="653" y="61" width="1" height="4" fill="#000"/>
<rect x="655" y="60" width="1" height="6" fill="#00ffff"/>
<rect x="654" y="61" width="3" height="4" fill="#00ffff"/>
<rect x="656" y="61" width="3" height="5" fill="#ff0000"/>
<rect x="657" y="62" width="1" height="3" fill="#000"/>
<rect x="659" y="61" width="1" height="7" fill="#00ffff"/>
<rect x="658" y="62" width="3" height="5" fill="#00ffff"/>
<rect x="661" y="64" width="1" height="7" fill="#00ffff"/>
<rect x="660" y="65" width="3" height="5" fill="#00ffff"/>
<rect x="663" y="62" width="1" height="8" fill="#ff0000"/>
<rect x="662" y="63" width="3" height="6" fill="#ff0000"/>
<rect x="663" y="64" width="1" height="4" fill="#000"/>
<rect x="664" y="59" width="3" height="5" fill="#ff0000"/>
<rect x="665" y="60" width="1" height="3" fill="#000"/>
<rect x="667" y="59" width="3" height="4" fill="#00ffff"/>
<rect x="670" y="59" width="1" height="13" fill="#00ffff"/>
<rect x="669" y="61" width="3" height="9" fill="#00ffff"/>
<rect x="672" y="57" width="1" height="14" fill="#ff0000"/>
<rect x="671" y="59" width="3" height="10" fill="#ff0000"/>
<rect x="672" y="60" width="1" height="8" fill="#000"/>
<rect x="674" y="51" width="1" height="11" fill="#00ffff"/>
<rect x="673" y="52" width="3" height="9" fill="#00ffff"/>
<rect x="676" y="53" width="1" height="8" fill="#ff0000"/>
<rect x="675" y="54" width="3" height="6" fill="#ff0000"/>
<rect x="676" y="55" width="1" height="4" fill="#000"/>
<rect x="678" y="46" width="1" height="10" fill="#00ffff"/>
<rect x="677" y="47" width="3" height="8" fill="#00ffff"/>
<rect x="679" y="55" width="3" height="7" fill="#ff0000"/>
<rect x="680" y="56" width="1" height="5" fill="#000"/>
<rect x="682" y="47" width="1" height="9" fill="#ff0000"/>
<rect x="681" y="48" width="3" height="7" fill="#ff0000"/>
<rect x="682" y="49" width="1" height="5" fill="#000"/>
<rect x="683" y="42" width="3" height="6" fill="#ff0000"/>
<rect x="684" y="43" width="1" height="4" fill="#000"/>
<rect x="687" y="42" width="1" height="6" fill="#00ffff"/>
<rect x="686" y="43" width="3" height="4" fill="#00ffff"/>
<rect x="688" y="39" width="3" height="5" fill="#ff0000"/>
<rect x="689" y="40" width="1" height="3" fill="#000"/>
<rect x="691" y="34" width="1" height="11" fill="#ff0000"/>
<rect x="690" y="35" width="3" height="9" fill="#ff0000"/>
<rect x="691" y="36" width="1" height="7" fill="#000"/>
<rect x="693" y="31" width="1" height="10" fill="#00ffff"/>
<rect x="692" y="32" width="3" height="8" fill="#00ffff"/>
<rect x="695" y="34" width="1" height="8" fill="#00ffff"/>
<rect x="694" y="35" width="3" height="6" fill="#00ffff"/>
<rect x="697" y="30" width="1" height="13" fill="#ff0000"/>
<rect x="696" y="32" width="3" height="9" fill="#ff0000"/>
<rect x="697" y="33" width="1" height="7" fill="#000"/>
<rect x="699" y="25" width="1" height="6" fill="#00ffff"/>
<rect x="699" y="31" width="3" height="10" fill="#00ffff"/>
<rect x="701" y="29" width="1" height="16" fill="#00ffff"/>
<rect x="702" y="36" width="1" height="5" fill="#00ffff"/>
</g>
<line x1="528.7" y1="70.5" x2="599" y2="111.7" stroke="#0000ff" stroke-width="1" shape-rendering="crispEdges"/>
<line x1="588.5" y1="125.5" x2="723" y2="42" stroke="#ffc0c0" stroke-width="1" shape-rendering="crispEdges"/>
<ellipse cx="576.5" cy="126.4" rx="13" ry="5" fill="none" stroke="#ff00ff" stroke-width="1" shape-rendering="crispEdges"/>
<text x="17.5" y="12.4" fill="#ffff00" font-family="Liberation Sans, Noto Sans CJK SC, sans-serif" font-size="12" font-weight="normal" textLength="70" lengthAdjust="spacingAndGlyphs">上证指数</text>
<text x="89" y="12.2" fill="#ffff00" font-family="Liberation Sans, Noto Sans CJK SC, sans-serif" font-size="12.5" font-weight="normal" textLength="44" lengthAdjust="spacingAndGlyphs">(SHSE 1)</text>
<text x="133.5" y="12.4" fill="#ffff00" font-family="Liberation Sans, Noto Sans CJK SC, sans-serif" font-size="12" font-weight="normal" textLength="34" lengthAdjust="spacingAndGlyphs">日线</text>
<text x="6.5" y="298" fill="#ffff00" font-family="Liberation Sans, Noto Sans CJK SC, sans-serif" font-size="12.5" font-weight="normal" textLength="42.5" lengthAdjust="spacingAndGlyphs">MV(5,20)</text>
<text x="195.5" y="298" fill="#ffffff" font-family="Liberation Sans, Noto Sans CJK SC, sans-serif" font-size="12.5" font-weight="normal" textLength="74.5" lengthAdjust="spacingAndGlyphs">5633044992.00</text>
<text x="389" y="298" fill="#ffff00" font-family="Liberation Sans, Noto Sans CJK SC, sans-serif" font-size="12.5" font-weight="normal" textLength="74.5" lengthAdjust="spacingAndGlyphs">5622951424.00</text>
<text x="582" y="298" fill="#ff00ff" font-family="Liberation Sans, Noto Sans CJK SC, sans-serif" font-size="12.5" font-weight="normal" textLength="74.5" lengthAdjust="spacingAndGlyphs">4994912256.00</text>
<text x="725.6" y="146" fill="url(#dr)" font-family="Liberation Sans, Noto Sans CJK SC, sans-serif" font-size="12.5" font-weight="normal" textLength="39.2" lengthAdjust="spacingAndGlyphs">1500.00</text>
<text x="725.2" y="370" fill="url(#dr)" font-family="Liberation Sans, Noto Sans CJK SC, sans-serif" font-size="12.5" font-weight="normal" textLength="48.6" lengthAdjust="spacingAndGlyphs">50000000</text>
<text x="76" y="443.3" fill="#ffffff" font-family="Liberation Sans, Noto Sans CJK SC, sans-serif" font-size="14" font-weight="bold" textLength="33.3" lengthAdjust="spacingAndGlyphs">09/01</text>
<text x="203" y="443.3" fill="#ffffff" font-family="Liberation Sans, Noto Sans CJK SC, sans-serif" font-size="14" font-weight="bold" textLength="33.3" lengthAdjust="spacingAndGlyphs">12/01</text>
<text x="320" y="443.3" fill="#ffffff" font-family="Liberation Sans, Noto Sans CJK SC, sans-serif" font-size="14" font-weight="bold" textLength="33.3" lengthAdjust="spacingAndGlyphs">03/01</text>
<text x="449.3" y="443.3" fill="#ffffff" font-family="Liberation Sans, Noto Sans CJK SC, sans-serif" font-size="14" font-weight="bold" textLength="33.3" lengthAdjust="spacingAndGlyphs">06/01</text>
<text x="589.5" y="443.3" fill="#ffffff" font-family="Liberation Sans, Noto Sans CJK SC, sans-serif" font-size="14" font-weight="bold" textLength="33.3" lengthAdjust="spacingAndGlyphs">09/01</text>
<text x="685.8" y="443.3" fill="#ffffff" font-family="Liberation Sans, Noto Sans CJK SC, sans-serif" font-size="14" font-weight="bold" textLength="33.3" lengthAdjust="spacingAndGlyphs">11/13</text>
<rect x="728.5" y="426.5" width="32" height="18" fill="none" stroke="#b20000" stroke-width="1" shape-rendering="crispEdges"/>
<rect x="753" y="426" width="1" height="19" fill="url(#dr)" shape-rendering="crispEdges"/>
<polygon points="728.5,430.5 741.5,430.5 741.5,427 753,435.5 741.5,444 741.5,439.5 728.5,439.5" fill="none" stroke="#ffff00" stroke-width="1.2"/>
<g shape-rendering="crispEdges">
<rect x="758" y="0" width="16" height="15" fill="#808000"/>
<rect x="759" y="1" width="14" height="13" fill="#00ffff"/>
<rect x="760" y="2" width="12" height="11" fill="#c0c0c0"/>
<rect x="763" y="2" width="8" height="7" fill="#0000ff"/>
<rect x="764" y="4" width="6" height="2" fill="#c0c0c0"/>
<rect x="761" y="6" width="8" height="7" fill="#0000ff"/>
<rect x="762" y="8" width="6" height="4" fill="#c0c0c0"/>
<rect x="769" y="6" width="1" height="2" fill="#c0c0c0"/>
</g>
</svg></body></html>
